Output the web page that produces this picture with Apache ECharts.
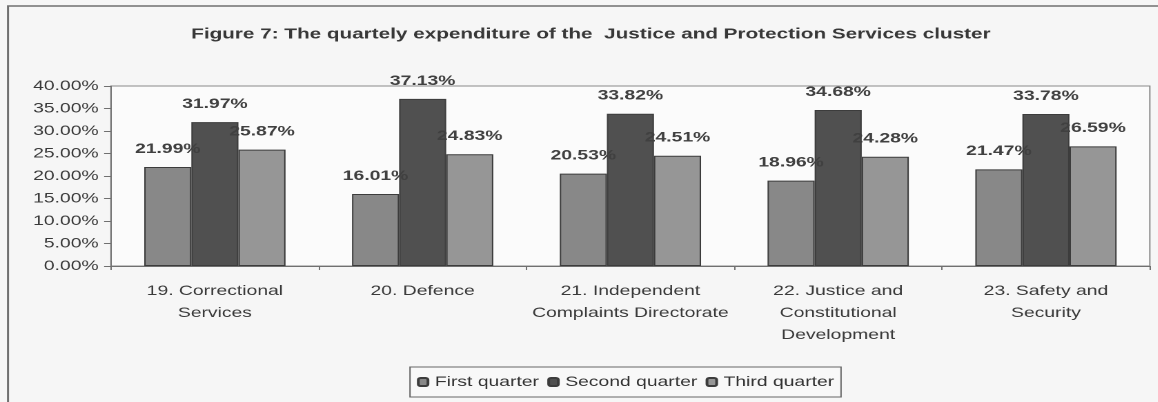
<!DOCTYPE html>
<html>
<head>
<meta charset="utf-8">
<script src="https://cdn.jsdelivr.net/npm/echarts@6/dist/echarts.min.js"></script>
<style>
  html, body { margin: 0; padding: 0; background: #f6f6f6; overflow: hidden; }
  #chart { height: 402px; transform-origin: 0 0; }
</style>
</head>
<body>
<div id="chart"></div>
<script>
// the scanned figure is stretched sideways, so the chart is drawn narrow and widened
const STRETCH = 1.38;
const FULL_W = 1158;

const categories = [
  '19. Correctional\nServices',
  '20. Defence',
  '21. Independent\nComplaints Directorate',
  '22. Justice and\nConstitutional\nDevelopment',
  '23. Safety and\nSecurity'
];
const firstQuarter = [21.99, 16.01, 20.53, 18.96, 21.47];
const secondQuarter = [31.97, 37.13, 33.82, 34.68, 33.78];
const thirdQuarter = [25.87, 24.83, 24.51, 24.28, 26.59];
const yTicks = [0, 5, 10, 15, 20, 25, 30, 35, 40];

const titleText = 'Figure 7: The quartely expenditure of the  Justice and Protection Services cluster';
const font = 'Liberation Sans, Arial, sans-serif';
const textColor = '#3a3a3a';

// real (picture) x -> chart x
const rx = x => x / STRETCH;

const dom = document.getElementById('chart');
dom.style.width = (FULL_W / STRETCH) + 'px';
dom.style.transform = `scaleX(${STRETCH})`;

const chart = echarts.init(dom, null, { renderer: 'canvas', devicePixelRatio: 2 });

const pct = v => v.toFixed(2) + '%';

function barSeries(name, data, color) {
  return {
    name: name,
    type: 'bar',
    data: data,
    barGap: '0%',
    barCategoryGap: '32%',
    itemStyle: { color: color, borderColor: '#3c3c3c', borderWidth: 1 },
    label: {
      show: true,
      position: 'top',
      distance: 11,
      formatter: p => pct(p.value),
      fontFamily: font,
      fontWeight: 'bold',
      fontSize: 14,
      color: '#404040'
    }
  };
}

chart.setOption({
  backgroundColor: '#f6f6f6',
  animation: false,
  title: {
    text: titleText,
    left: rx(584),
    top: 22,
    textAlign: 'center',
    textStyle: { fontFamily: font, fontWeight: 'bold', fontSize: 15, color: '#383838' }
  },
  graphic: [{
    type: 'rect',
    z: -1,
    shape: { x: rx(8), y: 6, width: 2000, height: 1000 },
    style: { fill: 'none', stroke: '#707070', lineWidth: 1.5 }
  }],
  legend: {
    left: rx(410),
    top: 367,
    itemWidth: 7,
    itemHeight: 8,
    itemGap: 6,
    padding: [8, 5, 8, 5],
    borderColor: '#666',
    borderWidth: 1,
    backgroundColor: '#f8f8f8',
    textStyle: { fontFamily: font, fontSize: 14, color: '#333' },
    data: ['First quarter', 'Second quarter', 'Third quarter']
  },
  grid: {
    left: rx(111),
    right: (FULL_W - 1150) / STRETCH,
    top: 86,
    height: 180,
    show: true,
    borderColor: '#8a8a8a',
    borderWidth: 1,
    backgroundColor: '#fbfbfb',
    containLabel: false
  },
  xAxis: {
    type: 'category',
    data: categories,
    axisLine: { lineStyle: { color: '#707070' } },
    axisTick: { show: true, length: 4, alignWithLabel: false, lineStyle: { color: '#707070' } },
    axisLabel: {
      interval: 0,
      margin: 14,
      fontFamily: font,
      fontSize: 14,
      lineHeight: 22,
      color: textColor
    }
  },
  yAxis: {
    type: 'value',
    min: yTicks[0],
    max: yTicks[yTicks.length - 1],
    interval: yTicks[1] - yTicks[0],
    splitLine: { show: false },
    axisLine: { show: true, lineStyle: { color: '#707070' } },
    axisTick: { show: true, length: 5, lineStyle: { color: '#707070' } },
    axisLabel: {
      margin: 9,
      formatter: v => pct(v),
      fontFamily: font,
      fontSize: 14,
      color: textColor
    }
  },
  series: [
    barSeries('First quarter', firstQuarter, '#888888'),
    barSeries('Second quarter', secondQuarter, '#505050'),
    barSeries('Third quarter', thirdQuarter, '#969696')
  ]
});
</script>
</body>
</html>
